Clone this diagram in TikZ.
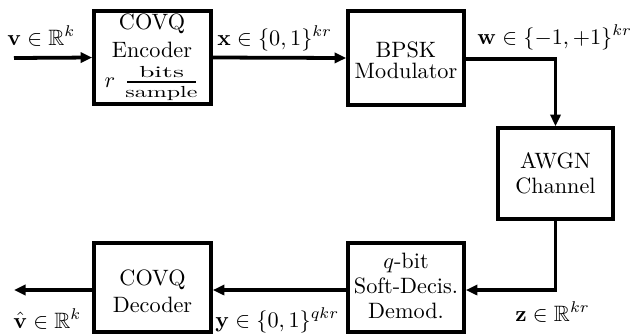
\documentclass[tikz,border=0pt]{standalone}
\usepackage{amsmath,amssymb}
\usepackage{graphicx}
\usetikzlibrary{arrows.meta}
\begin{document}
\begin{tikzpicture}[x=0.45pt,y=-0.45pt,
  blk/.style={draw,line width=1.7pt,inner sep=0pt},
  txt/.style={anchor=base,inner sep=0pt,font=\fontsize{10}{11}\selectfont},
  lbl/.style={anchor=base west,inner sep=0pt},
  conn/.style={line width=1.7pt,-{Triangle[length=5.2pt,width=4.6pt]}}]
\useasboundingbox (0,0) rectangle (642,335);
% boxes
\node[blk,minimum width=117*0.45pt,minimum height=93*0.45pt] (enc) at (152.5,57.5) {};
\node[blk,minimum width=116*0.45pt,minimum height=94*0.45pt] (bpsk) at (406,58) {};
\node[blk,minimum width=115*0.45pt,minimum height=91*0.45pt] (awgn) at (555.5,173.5) {};
\node[blk,minimum width=116*0.45pt,minimum height=89*0.45pt] (dem) at (406,287.5) {};
\node[blk,minimum width=117*0.45pt,minimum height=89*0.45pt] (dec) at (152.5,287.5) {};
% encoder text
\node[txt] (encA) at (152,29) {COVQ};
\node[txt] (encB) at (152,57) {Encoder};
\node[txt] (encR) at (110,87) {$r$};
\node[txt] (encN) at (161.5,77) {\scalebox{1.25}[0.72]{bits}};
\node[txt] (encD) at (161.5,97) {\scalebox{1.08}[0.72]{sample}};
\coordinate (barL) at (127,82);
\coordinate (barR) at (196,82);
\draw[line width=1.3pt] (barL) -- (barR);
% other box texts
\node[txt] (bpskA) at (406,57) {BPSK};
\node[txt] (bpskB) at (406,78) {Modulator};
\node[txt] (awgnA) at (555.5,168) {AWGN};
\node[txt] (awgnB) at (555.5,193) {Channel};
\node[txt] (demA) at (406,268) {$q$-bit};
\node[txt] (demB) at (406,293) {Soft-Decis.};
\node[txt] (demC) at (406,318) {Demod.};
\node[txt] (decA) at (152.5,285) {COVQ};
\node[txt] (decB) at (152.5,312) {Decoder};
% end points
\coordinate (in) at (14,58);
\coordinate (out) at (14,290);
% connectors
\draw[conn] (in) -- (enc.west);
\draw[conn] (enc.east) -- (bpsk.west);
\draw[conn] ([yshift=-1*0.45pt]bpsk.east) -| (awgn.north);
\draw[conn] (awgn.south) |- ([yshift=-2.5*0.45pt]dem.east);
\draw[conn] ([yshift=-2.5*0.45pt]dem.west) -- ([yshift=-2.5*0.45pt]dec.east);
\draw[conn] ([yshift=-2.5*0.45pt]dec.west) -- (out);
% labels
\node[lbl] (lv) at (7,45) {$\mathbf{v}\in\mathbb{R}^k$};
\node[lbl] (lx) at (217,45) {$\mathbf{x}\in\{0,1\}^{kr}$};
\node[lbl] (lw) at (477,44) {$\mathbf{w}\in\{-1,+1\}^{kr}$};
\node[lbl] (lvh) at (13,328) {$\hat{\mathbf{v}}\in\mathbb{R}^k$};
\node[lbl] (ly) at (215,327) {$\mathbf{y}\in\{0,1\}^{qkr}$};
\node[lbl] (lz) at (515,321) {$\mathbf{z}\in\mathbb{R}^{kr}$};
\end{tikzpicture}
\end{document}
